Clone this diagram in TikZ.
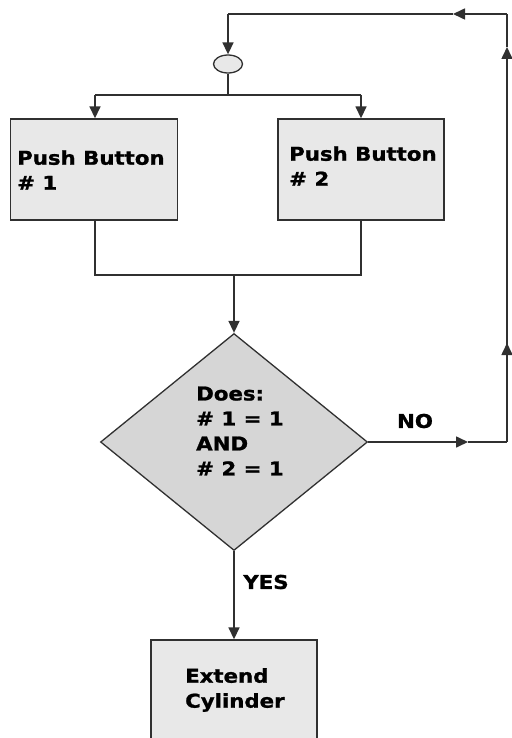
\documentclass[tikz,border=0pt]{standalone}
\usepackage{fontspec}
\newfontfamily\lbl{DejaVu Sans Bold}[FakeStretch=1.12,FakeBold=1.2]
\usetikzlibrary{arrows.meta,shapes.geometric}
\definecolor{boxfill}{HTML}{E8E8E8}
\definecolor{dfill}{HTML}{D6D6D6}
\definecolor{ln}{HTML}{303030}
\tikzset{
  conn/.style={draw=ln,line width=1.6pt},
  arr/.style={conn,-{Triangle[length=12pt,width=11pt]}},
  procbox/.style={draw=ln,line width=1.4pt,fill=boxfill,rectangle,inner sep=0pt},
  txt/.style={font=\lbl\fontsize{19}{25}\selectfont,align=left,inner sep=0pt}
}
\begin{document}
\begin{tikzpicture}[x=1pt,y=-1pt]
\useasboundingbox (0,0) rectangle (511,738);
% nodes
\node[draw=ln,line width=1.3pt,fill=boxfill,ellipse,minimum width=29pt,minimum height=18pt,inner sep=0pt] (ell) at (228,64) {};
\node[procbox,minimum width=167pt,minimum height=101pt] (b1) at (94,169.5) {};
\node[txt,anchor=west] (t1) at (17,170) {Push Button\\\# 1};
\node[procbox,minimum width=166pt,minimum height=101pt] (b2) at (361,169.5) {};
\node[txt,anchor=west] (t2) at (289,166) {Push Button\\\# 2};
\node[draw=ln,line width=1.3pt,fill=dfill,diamond,minimum width=267pt,minimum height=217pt,inner sep=0pt] (dec) at (234,442) {};
\node[txt,anchor=west] (dt) at (196,431) {Does:\\\# 1 = 1\\AND\\\# 2 = 1};
\node[procbox,minimum width=166pt,minimum height=100pt] (b3) at (234,690) {};
\node[txt,anchor=west] (t3) at (185,690) {Extend\\Cylinder};
\node[txt] (no) at (415,421) {NO};
\node[txt] (yes) at (266,582) {YES};
% coordinates
\coordinate (tl) at (228,14);
\coordinate (tr) at (507,14);
\coordinate (ta) at (453,14);
\coordinate (split) at (228,95);
\coordinate (sl) at (95,95);
\coordinate (sr) at (361,95);
\coordinate (jl) at (95,275);
\coordinate (jr) at (361,275);
\coordinate (jc) at (234,275);
\coordinate (nr) at (507,442);
\coordinate (na) at (468,442);
\coordinate (ra) at (507,343);
\coordinate (rb) at (507,47);
% connectors
\draw[arr] (tr) -- (ta);
\draw[conn] (ta) -- (tl);
\draw[arr] (tl) -- (ell.north);
\draw[conn] (ell.south) -- (split);
\draw[conn] (sl) -- (sr);
\draw[arr] (sl) -- (b1.north -| sl);
\draw[arr] (sr) -- (b2.north -| sr);
\draw[conn] (b1.south -| jl) -- (jl) -- (jr) -- (b2.south -| jr);
\draw[arr] (jc) -- (dec.north);
\draw[arr] (dec.east) -- (na);
\draw[conn] (na) -- (nr);
\draw[arr] (nr) -- (ra);
\draw[conn] (ra) -- (507,360);
\draw[arr] (ra) -- (rb);
\draw[conn] (rb) -- (tr);
\draw[arr] (dec.south) -- (b3.north);
\end{tikzpicture}
\end{document}
